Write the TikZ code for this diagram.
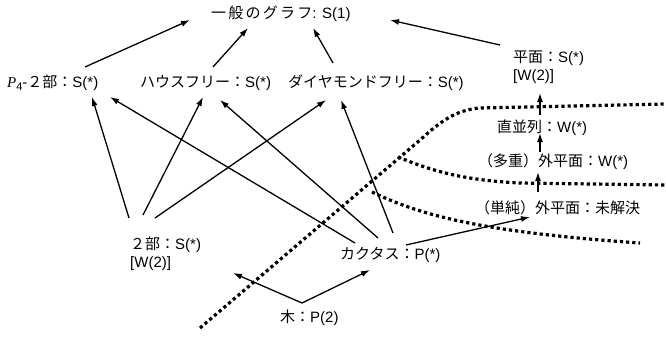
\documentclass[tikz,border=0pt]{standalone}
\usepackage{fontspec}
\setmainfont{Liberation Sans}
\newfontfamily\jpfont{Noto Sans CJK JP}
\newfontfamily\jpwide[LetterSpace=15]{Noto Sans CJK JP}
\newfontfamily\serfont{Liberation Serif}
\newcommand\jp[1]{{\jpfont #1}}
\usetikzlibrary{arrows.meta,calc}
\newcommand\rel[3]{($(#1.west)+(#2,#3)$)}
\begin{document}
\begin{tikzpicture}[x=1pt,y=-1pt,font=\fontsize{15}{18}\selectfont,
  lbl/.style={inner sep=0pt,anchor=west,align=left},
  arr/.style={line width=1.3pt,-{Latex[length=9pt,width=6pt]}},
  dots/.style={line width=3.2pt,dash pattern=on 3.2pt off 3pt}]
\useasboundingbox (0,0) rectangle (666,338);
\node[lbl] (gen) at (211,14) {{\jpwide 一般のグラフ}: S(1)};
\node[lbl] (p4) at (7,83) {{\serfont\itshape P}\raisebox{-0.35ex}{\fontsize{11}{11}\selectfont 4}-\jp{２部：}S(*)};
\node[lbl] (house) at (140,83) {\jp{ハウスフリー：}S(*)};
\node[lbl] (dia) at (288,83) {\jp{ダイヤモンドフリー：}S(*)};
\node[lbl] (planar) at (513,67) {\jp{平面：}S(*)\\ \relax[W(2)]};
\node[lbl] (sp) at (497,128) {\jp{直並列：}W(*)};
\node[lbl] (mop) at (478,162) {\jp{（多重）外平面：}W(*)};
\node[lbl] (sop) at (475,208) {\jp{（単純）外平面：未解決}};
\node[lbl] (bip) at (130,254) {\jp{２部：}S(*)\\ \relax[W(2)]};
\node[lbl] (cac) at (340,255) {\jp{カクタス：}P(*)};
\node[lbl] (tree) at (280,318) {\jp{木：}P(2)};
% dotted boundaries
\draw[dots] (200,328) -- (420,140) .. controls (440,122) and (455,110) .. (480,108) -- (666,104);
\draw[dots] (398,157) .. controls (430,170) and (460,180) .. (520,183) -- (666,185);
\draw[dots] (372,192) .. controls (420,215) and (480,232) .. (640,243);
% arrows
\draw[arr] \rel{p4}{78}{-16} -- \rel{gen}{-21}{6};
\draw[arr] \rel{house}{73}{-16} -- \rel{gen}{37}{14};
\draw[arr] \rel{dia}{45}{-20} -- \rel{gen}{102}{14};
\draw[arr] \rel{planar}{-13}{-22} -- \rel{gen}{179}{6};
\draw[arr] \rel{bip}{-1}{-36} -- \rel{p4}{85}{14};
\draw[arr] \rel{bip}{13}{-39} -- \rel{house}{63}{14};
\draw[arr] \rel{bip}{25}{-36} -- \rel{dia}{38}{17};
\draw[arr] \rel{cac}{15}{-12} -- \rel{p4}{103}{14};
\draw[arr] \rel{cac}{38}{-17} -- \rel{house}{80}{17};
\draw[arr] \rel{cac}{53}{-22} -- \rel{dia}{53}{17};
\draw[arr] \rel{cac}{66}{-10} -- \rel{sop}{55}{9};
\draw[arr] \rel{tree}{22}{-15} -- \rel{bip}{103}{19};
\draw[arr] \rel{tree}{22}{-15} -- \rel{cac}{30}{15};
\draw[arr] \rel{sop}{63}{-16} -- \rel{mop}{60}{10};
\draw[arr] \rel{mop}{62}{-10} -- \rel{sp}{43}{5};
\draw[arr] \rel{sp}{43}{-13} -- \rel{planar}{27}{26};
\end{tikzpicture}
\end{document}
